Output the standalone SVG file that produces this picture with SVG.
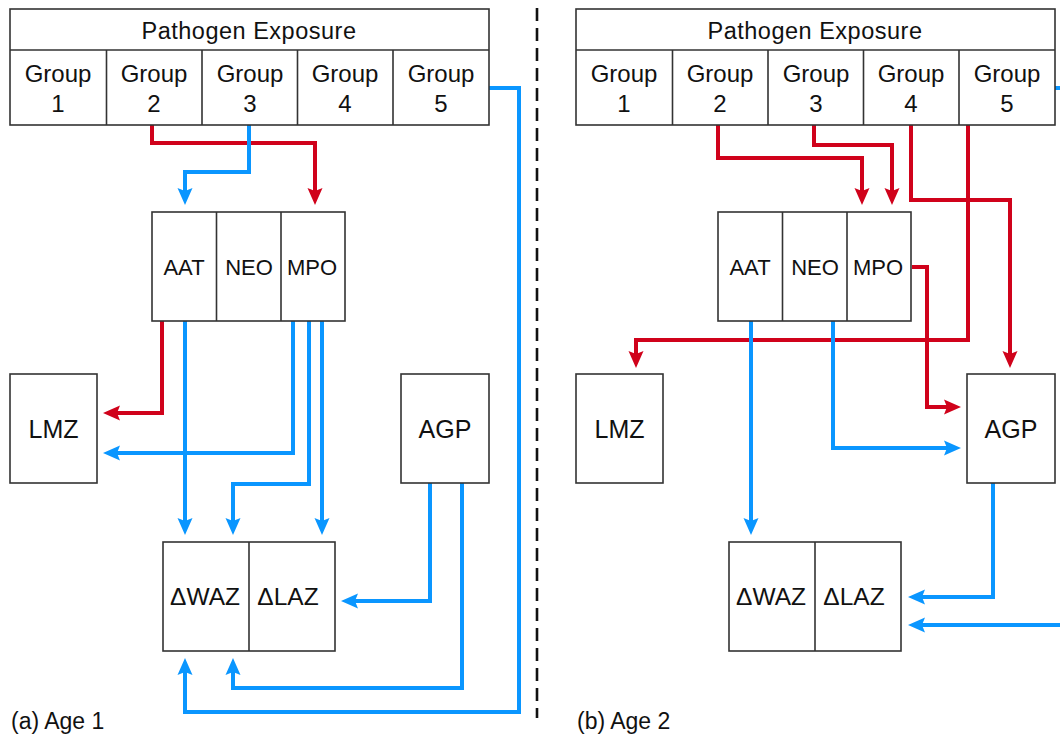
<svg xmlns="http://www.w3.org/2000/svg" width="1060" height="737" viewBox="0 0 1060 737">
<style>
.box{fill:#fff;stroke:#333;stroke-width:1.6}
.ln{fill:none;stroke:#333;stroke-width:1.6}
text{font-family:"Liberation Sans",Arial,Helvetica,sans-serif;fill:#111;text-anchor:middle}
.hd{font-size:23.5px;letter-spacing:0.5px}
.gp{font-size:24px}
.mk{font-size:22px}
.bx{font-size:25px}
.dz{font-size:24.5px}
.cap{font-size:23px;text-anchor:start}
.b{fill:none;stroke:#0A96FF;stroke-width:4;stroke-linejoin:miter;marker-end:url(#ab)}
.r{fill:none;stroke:#D0021B;stroke-width:4;stroke-linejoin:miter;marker-end:url(#ar)}
.bn{fill:none;stroke:#0A96FF;stroke-width:4}
</style>
<defs>
<marker id="ab" markerUnits="userSpaceOnUse" viewBox="0 -8 18 16" refX="3" refY="0" markerWidth="18" markerHeight="16" orient="auto"><path d="M0,-7.5 L17,0 L0,7.5 L3,0 Z" fill="#0A96FF"/></marker>
<marker id="ar" markerUnits="userSpaceOnUse" viewBox="0 -8 18 16" refX="3" refY="0" markerWidth="18" markerHeight="16" orient="auto"><path d="M0,-7.5 L17,0 L0,7.5 L3,0 Z" fill="#D0021B"/></marker>
</defs>
<rect width="1060" height="737" fill="#fff"/>

<line x1="537" y1="8" x2="537" y2="718" stroke="#111" stroke-width="2.6" stroke-dasharray="13 7"/>

<g id="connectors">
<path class="r" d="M152,125 V143 H315 V191"/>
<path class="b" d="M249,125 V172 H185 V191"/>
<path class="r" d="M162,321 V413 H117"/>
<path class="b" d="M185,321 V521"/>
<path class="b" d="M293,321 V453 H117"/>
<path class="b" d="M309,321 V484 H233 V521"/>
<path class="b" d="M322,321 V521"/>
<path class="b" d="M430,483 V601 H355"/>
<path class="b" d="M462,483 V688 H233 V672"/>
<path class="b" d="M489,88 H519 V712 H185 V672"/>

<path class="r" d="M718,125 V158 H862 V191"/>
<path class="r" d="M814,125 V145 H892 V191"/>
<path class="r" d="M911,125 V200 H1010 V354"/>
<path class="r" d="M968,125 V340 H636 V354"/>
<path class="r" d="M912,267 H927 V407 H947"/>
<path class="b" d="M833,321 V448 H947"/>
<path class="b" d="M751,321 V521"/>
<path class="b" d="M993,483 V597 H922"/>
<path class="bn" d="M1055,88 H1062"/>
<path class="b" d="M1062,625 H922"/>
</g>

<g id="a-exposure">
<rect class="box" x="10" y="9" width="479" height="116"/>
<path class="ln" d="M10,50 H489 M106.5,50 V125 M202,50 V125 M297.5,50 V125 M393,50 V125"/>
<text class="hd" x="249" y="39">Pathogen Exposure</text>
<text class="gp" x="58" y="82">Group</text><text class="gp" x="58" y="112">1</text>
<text class="gp" x="154" y="82">Group</text><text class="gp" x="154" y="112">2</text>
<text class="gp" x="250" y="82">Group</text><text class="gp" x="250" y="112">3</text>
<text class="gp" x="345" y="82">Group</text><text class="gp" x="345" y="112">4</text>
<text class="gp" x="441" y="82">Group</text><text class="gp" x="441" y="112">5</text>
</g>
<g id="a-markers">
<rect class="box" x="152" y="212" width="193" height="109"/>
<path class="ln" d="M216.5,212 V321 M281,212 V321"/>
<text class="mk" x="184" y="275">AAT</text>
<text class="mk" x="249" y="275">NEO</text>
<text class="mk" x="312" y="275">MPO</text>
</g>
<g id="a-lmz">
<rect class="box" x="10" y="374" width="87" height="109"/>
<text class="bx" x="53.5" y="438">LMZ</text>
</g>
<g id="a-agp">
<rect class="box" x="401" y="374" width="88" height="109"/>
<text class="bx" x="445" y="438">AGP</text>
</g>
<g id="a-delta">
<rect class="box" x="163" y="542" width="172" height="109"/>
<path class="ln" d="M249,542 V651"/>
<text class="dz" x="205" y="605">ΔWAZ</text>
<text class="dz" x="288" y="605">ΔLAZ</text>
</g>
<text class="cap" x="11" y="729">(a) Age 1</text>

<g id="b-exposure">
<rect class="box" x="576" y="9" width="479" height="116"/>
<path class="ln" d="M576,50 H1055 M672.5,50 V125 M768,50 V125 M863.5,50 V125 M959,50 V125"/>
<text class="hd" x="815" y="39">Pathogen Exposure</text>
<text class="gp" x="624" y="82">Group</text><text class="gp" x="624" y="112">1</text>
<text class="gp" x="720" y="82">Group</text><text class="gp" x="720" y="112">2</text>
<text class="gp" x="816" y="82">Group</text><text class="gp" x="816" y="112">3</text>
<text class="gp" x="911" y="82">Group</text><text class="gp" x="911" y="112">4</text>
<text class="gp" x="1007" y="82">Group</text><text class="gp" x="1007" y="112">5</text>
</g>
<g id="b-markers">
<rect class="box" x="718" y="212" width="193" height="109"/>
<path class="ln" d="M782.5,212 V321 M847,212 V321"/>
<text class="mk" x="750" y="275">AAT</text>
<text class="mk" x="815" y="275">NEO</text>
<text class="mk" x="878" y="275">MPO</text>
</g>
<g id="b-lmz">
<rect class="box" x="576" y="374" width="87" height="109"/>
<text class="bx" x="619.5" y="438">LMZ</text>
</g>
<g id="b-agp">
<rect class="box" x="967" y="374" width="88" height="109"/>
<text class="bx" x="1011" y="438">AGP</text>
</g>
<g id="b-delta">
<rect class="box" x="729" y="542" width="172" height="109"/>
<path class="ln" d="M815,542 V651"/>
<text class="dz" x="771" y="605">ΔWAZ</text>
<text class="dz" x="854" y="605">ΔLAZ</text>
</g>
<text class="cap" x="577" y="729">(b) Age 2</text>
</svg>
